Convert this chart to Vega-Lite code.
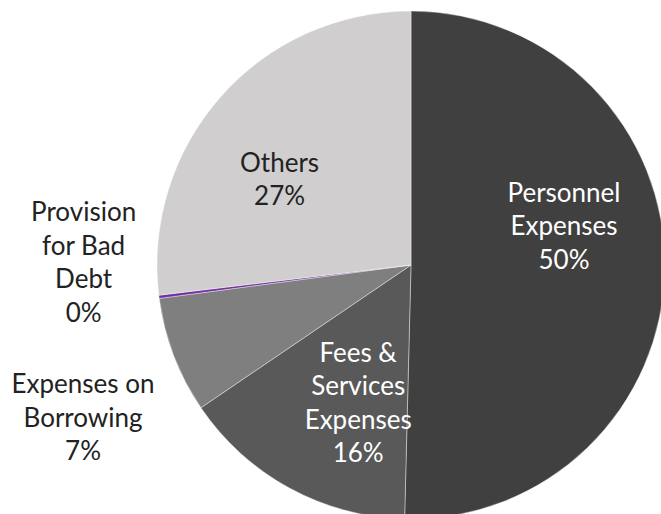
{
  "$schema": "https://vega.github.io/schema/vega-lite/v6.json",
  "autosize": {"type": "none"},
  "width": 500,
  "height": 498,
  "padding": {"left": 161, "top": 16, "right": 0, "bottom": 0},
  "background": "white",
  "config": {"view": {"stroke": null}},
  "data": {
    "values": [
      {"cat": "Personnel Expenses", "k": 1, "v": 50.4, "label": "Personnel\nExpenses\n50%"},
      {"cat": "Fees & Services Expenses", "k": 2, "v": 15.1, "label": "Fees &\nServices\nExpenses\n16%"},
      {"cat": "Expenses on Borrowing", "k": 3, "v": 7.4, "label": "Expenses on\nBorrowing\n7%"},
      {"cat": "Provision for Bad Debt", "k": 4, "v": 0.2, "label": "Provision\nfor Bad\nDebt\n0%"},
      {"cat": "Others", "k": 5, "v": 26.9, "label": "Others\n27%"}
    ]
  },
  "encoding": {
    "theta": {"field": "v", "type": "quantitative", "stack": true},
    "order": {"field": "k", "type": "quantitative"}
  },
  "layer": [
    {
      "mark": {"type": "arc", "outerRadius": 254, "stroke": "white", "strokeWidth": 0.4},
      "encoding": {
        "color": {
          "field": "cat",
          "type": "nominal",
          "scale": {
            "domain": ["Personnel Expenses", "Fees & Services Expenses", "Expenses on Borrowing", "Provision for Bad Debt", "Others"],
            "range": ["#404040", "#595959", "#7f7f7f", "#7030a0", "#d0cece"]
          },
          "legend": null
        }
      }
    },
    {
      "mark": {"type": "text", "font": "Lato", "fontSize": 26, "lineBreak": "\n", "lineHeight": 33.5, "align": "center", "baseline": "middle", "fill": "white", "radius": 153, "dy": -73},
      "encoding": {"text": {"condition": {"test": "datum.k === 1", "field": "label"}, "value": ""}}
    },
    {
      "mark": {"type": "text", "font": "Lato", "fontSize": 26, "lineBreak": "\n", "lineHeight": 33.5, "align": "center", "baseline": "middle", "fill": "white", "radius": 150, "dx": 19, "dy": -43},
      "encoding": {"text": {"condition": {"test": "datum.k === 2", "field": "label"}, "value": ""}}
    },
    {
      "mark": {"type": "text", "font": "Lato", "fontSize": 26, "lineBreak": "\n", "lineHeight": 33.5, "align": "center", "baseline": "middle", "fill": "#222222", "radius": 351, "dy": -5},
      "encoding": {"text": {"condition": {"test": "datum.k === 3", "field": "label"}, "value": ""}}
    },
    {
      "mark": {"type": "text", "font": "Lato", "fontSize": 26, "lineBreak": "\n", "lineHeight": 33.5, "align": "center", "baseline": "middle", "fill": "#222222", "radius": 330, "dy": -93},
      "encoding": {"text": {"condition": {"test": "datum.k === 4", "field": "label"}, "value": ""}}
    },
    {
      "mark": {"type": "text", "font": "Lato", "fontSize": 26, "lineBreak": "\n", "lineHeight": 33.5, "align": "center", "baseline": "middle", "fill": "#222222", "radius": 157, "dx": -14, "dy": 3},
      "encoding": {"text": {"condition": {"test": "datum.k === 5", "field": "label"}, "value": ""}}
    }
  ]
}
